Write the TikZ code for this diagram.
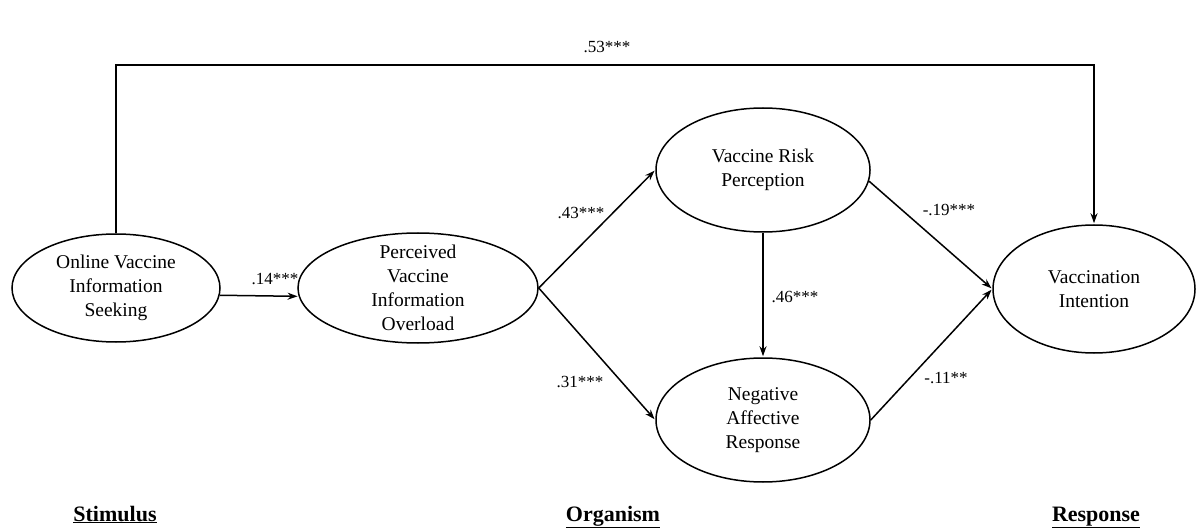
\documentclass[tikz,border=0pt]{standalone}
\usepackage{fontspec}
\setmainfont{Liberation Serif}
\usetikzlibrary{arrows,arrows.meta,shapes.geometric}

\begin{document}
\begin{tikzpicture}[->,>={Stealth[length=10pt,width=7pt]},shorten >=1pt,x=1pt,y=1pt,line width=1.5pt]
  \tikzstyle{latent}=[ellipse,draw=black,text=black,align=center,inner xsep=0pt,inner ysep=-10pt,font=\fontsize{19.5}{24}\selectfont]
  \tikzstyle{coef}=[font=\fontsize{17}{20}\selectfont]
  \tikzstyle{stage}=[font=\fontsize{22}{26}\selectfont\bfseries,anchor=base]

  \useasboundingbox (0,0) rectangle (1196,528);

  \node[latent,minimum width=208pt,minimum height=108pt] (OS) at (116,240) {Online Vaccine\\Information\\Seeking};
  \node[latent,minimum width=240pt,minimum height=110pt] (PV) [right of=OS,node distance=302pt] {Perceived\\Vaccine\\Information\\Overload};
  \node[latent,minimum width=214pt,minimum height=124pt] (VR) at (763,358) {Vaccine Risk\\Perception};
  \node[latent,minimum width=214pt,minimum height=124pt] (NA) [below of=VR,node distance=250pt] {Negative\\Affective\\Response};
  \node[latent,minimum width=202pt,minimum height=128pt] (VI) at (1094,239) {Vaccination\\Intention};

  \coordinate (top) at (607,463);

  \path (OS.-4) edge (PV.184)
        (PV.east) edge (VR.west)
        (PV.east) edge (NA.west)
        (VR.south) edge (NA.north)
        (VR.-6) edge (VI.west)
        (NA.east) edge (VI.west);
  \draw (OS.north) |- (top) -| (VI.north);

  \node[coef] (b53) at (607,481) {.53***};
  \node[coef] (b14) at (275,249) {.14***};
  \node[coef] (b43) at (581,315) {.43***};
  \node[coef] (b31) at (580,146) {.31***};
  \node[coef] (b46) at (795,231) {.46***};
  \node[coef] (b19) at (949,318) {-.19***};
  \node[coef] (b11) at (946,150) {-.11**};

  \node[stage] (st) at (115,7) {\underline{Stimulus}};
  \node[stage] (og) at (613,7) {\underline{Organism}};
  \node[stage] (rs) at (1096,7) {\underline{Response}};
\end{tikzpicture}
\end{document}
